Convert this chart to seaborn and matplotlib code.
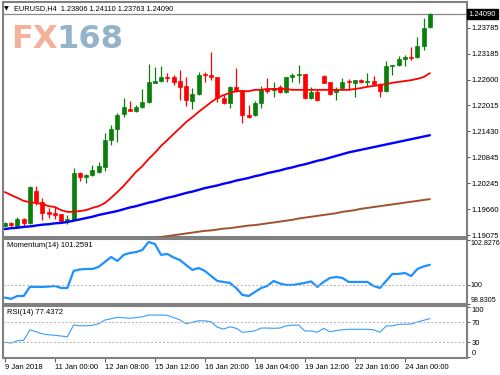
import numpy as np
import pandas as pd
import matplotlib
matplotlib.use("Agg")
import matplotlib.pyplot as plt
import seaborn as sns
from matplotlib.transforms import blended_transform_factory

sns.set_theme(style="white")
plt.rcParams['font.family'] = ['Liberation Sans', 'DejaVu Sans']

# ---------------- data ----------------
open_ = [
    1.1928, 1.1935, 1.1928, 1.1944, 1.1935, 1.2007, 1.1982, 1.1960, 1.1957, 1.1955,
    1.1939, 1.1942, 1.2048, 1.2039, 1.2044, 1.2051, 1.2062, 1.2123, 1.2148, 1.2182,
    1.2194, 1.2189, 1.2198, 1.2209, 1.2253, 1.2257, 1.2266, 1.2266, 1.2257, 1.2246,
    1.2212, 1.2228, 1.2273, 1.2271, 1.2266, 1.2219, 1.2207, 1.2244, 1.2237, 1.2180,
    1.2180, 1.2207, 1.2239, 1.2237, 1.2244, 1.2232, 1.2266, 1.2271, 1.2273, 1.2219,
    1.2232, 1.2268, 1.2255, 1.2232, 1.2241, 1.2257, 1.2253, 1.2259, 1.2255, 1.2257,
    1.2250, 1.2234, 1.2291, 1.2293, 1.2307, 1.2312, 1.2312, 1.2337, 1.23806]
high = [
    1.1937, 1.1937, 1.1948, 1.1946, 1.2019, 1.2019, 1.1992, 1.1969, 1.1971, 1.1955,
    1.1953, 1.2060, 1.2051, 1.2046, 1.2066, 1.2073, 1.2139, 1.2157, 1.2184, 1.2219,
    1.2212, 1.2203, 1.2239, 1.2296, 1.2289, 1.2291, 1.2275, 1.2271, 1.2282, 1.2266,
    1.2241, 1.2278, 1.2278, 1.2323, 1.2266, 1.2225, 1.2246, 1.2287, 1.2237, 1.2203,
    1.2212, 1.2246, 1.2264, 1.2255, 1.2248, 1.2266, 1.2275, 1.2293, 1.2273, 1.2244,
    1.2237, 1.2271, 1.2255, 1.2244, 1.2264, 1.2262, 1.2259, 1.2262, 1.2275, 1.2268,
    1.2253, 1.2303, 1.2293, 1.2314, 1.2316, 1.2334, 1.2357, 1.2400, 1.24110]
low = [
    1.1926, 1.1926, 1.1926, 1.1928, 1.1932, 1.1976, 1.1942, 1.1946, 1.1944, 1.1935,
    1.1932, 1.1942, 1.2030, 1.2026, 1.2041, 1.2048, 1.2053, 1.2112, 1.2119, 1.2175,
    1.2189, 1.2187, 1.2196, 1.2207, 1.2253, 1.2255, 1.2255, 1.2248, 1.2214, 1.2200,
    1.2194, 1.2225, 1.2255, 1.2259, 1.2209, 1.2205, 1.2196, 1.2232, 1.2162, 1.2173,
    1.2178, 1.2196, 1.2230, 1.2221, 1.2230, 1.2230, 1.2255, 1.2253, 1.2216, 1.2216,
    1.2212, 1.2253, 1.2225, 1.2214, 1.2237, 1.2237, 1.2221, 1.2253, 1.2246, 1.2246,
    1.2221, 1.2232, 1.2271, 1.2291, 1.2291, 1.2305, 1.2309, 1.2328, 1.23763]
close = [
    1.1935, 1.1930, 1.1944, 1.1935, 1.2016, 1.1982, 1.1957, 1.1955, 1.1953, 1.1939,
    1.1944, 1.2048, 1.2039, 1.2044, 1.2055, 1.2064, 1.2123, 1.2148, 1.2180, 1.2198,
    1.2189, 1.2198, 1.2209, 1.2255, 1.2257, 1.2266, 1.2264, 1.2255, 1.2244, 1.2214,
    1.2228, 1.2271, 1.2271, 1.2266, 1.2219, 1.2207, 1.2244, 1.2234, 1.2180, 1.2175,
    1.2207, 1.2239, 1.2234, 1.2241, 1.2232, 1.2266, 1.2271, 1.2273, 1.2219, 1.2232,
    1.2214, 1.2253, 1.2228, 1.2239, 1.2255, 1.2255, 1.2259, 1.2255, 1.2257, 1.2250,
    1.2234, 1.2291, 1.2293, 1.2307, 1.2312, 1.2309, 1.2337, 1.2377, 1.24090]

red_ma = [
    1.2005, 1.1998, 1.1992, 1.1985, 1.1982, 1.1980, 1.1978, 1.1973, 1.1971, 1.1964,
    1.1960, 1.1960, 1.1962, 1.1964, 1.1969, 1.1973, 1.1980, 1.1992, 1.2005, 1.2019,
    1.2035, 1.2051, 1.2064, 1.2080, 1.2094, 1.2110, 1.2123, 1.2137, 1.2150, 1.2164,
    1.2175, 1.2187, 1.2198, 1.2209, 1.2219, 1.2225, 1.2230, 1.2234, 1.2234, 1.2234,
    1.2237, 1.2237, 1.2239, 1.2239, 1.2239, 1.2239, 1.2237, 1.2237, 1.2237, 1.2237,
    1.2237, 1.2237, 1.2237, 1.2237, 1.2237, 1.2237, 1.2239, 1.2241, 1.2244, 1.2246,
    1.2248, 1.2250, 1.2253, 1.2255, 1.2257, 1.2259, 1.2262, 1.2266, 1.2275]
blue_ma = [
    1.1921, 1.1923, 1.1924, 1.1926, 1.1927, 1.1929, 1.1931, 1.1932, 1.1934, 1.1935,
    1.1937, 1.1940, 1.1943, 1.1946, 1.1949, 1.1953, 1.1956, 1.1959, 1.1962, 1.1966,
    1.1970, 1.1973, 1.1977, 1.1981, 1.1984, 1.1988, 1.1992, 1.1995, 1.1999, 1.2003,
    1.2006, 1.2010, 1.2014, 1.2017, 1.2020, 1.2024, 1.2027, 1.2031, 1.2034, 1.2037,
    1.2041, 1.2044, 1.2048, 1.2051, 1.2054, 1.2058, 1.2061, 1.2065, 1.2068, 1.2072,
    1.2076, 1.2079, 1.2083, 1.2087, 1.2091, 1.2095, 1.2098, 1.2101, 1.2104, 1.2107,
    1.2110, 1.2113, 1.2116, 1.2119, 1.2122, 1.2125, 1.2128, 1.2131, 1.2134]
brown_ma = [
    1.1853, 1.1855, 1.1858, 1.1859, 1.1861, 1.1863, 1.1865, 1.1867, 1.1869, 1.1871,
    1.1873, 1.1875, 1.1877, 1.1879, 1.1880, 1.1883, 1.1885, 1.1886, 1.1888, 1.1890,
    1.1892, 1.1895, 1.1897, 1.1899, 1.1901, 1.1903, 1.1905, 1.1907, 1.1909, 1.1911,
    1.1913, 1.1915, 1.1917, 1.1918, 1.1920, 1.1922, 1.1923, 1.1925, 1.1927, 1.1929,
    1.1930, 1.1932, 1.1934, 1.1936, 1.1938, 1.1940, 1.1942, 1.1945, 1.1947, 1.1949,
    1.1951, 1.1953, 1.1955, 1.1957, 1.1960, 1.1962, 1.1964, 1.1967, 1.1969, 1.1971,
    1.1973, 1.1975, 1.1977, 1.1979, 1.1981, 1.1983, 1.1985, 1.1987, 1.1989]

momentum = [
    99.21, 99.13, 99.31, 99.31, 99.88, 99.88, 99.88, 99.90, 99.94, 99.81,
    99.81, 100.88, 100.97, 101.00, 101.00, 101.13, 101.44, 101.75, 101.50, 101.88,
    102.00, 102.06, 102.19, 102.69, 102.56, 101.88, 101.94, 101.72, 101.56, 101.25,
    100.94, 101.06, 100.88, 100.56, 100.25, 100.19, 100.13, 99.81, 99.38, 99.31,
    99.56, 99.81, 99.94, 100.25, 100.09, 100.00, 100.00, 100.06, 100.13, 100.22,
    99.88, 100.19, 100.44, 100.50, 100.44, 100.19, 100.19, 100.19, 100.19, 99.94,
    99.81, 100.25, 100.69, 100.69, 100.75, 100.56, 101.00, 101.16, 101.2591]
rsi = [
    30.0, 28.5, 33.0, 34.0, 55.0, 51.0, 47.0, 45.0, 44.0, 42.5,
    41.0, 64.5, 63.0, 63.0, 64.0, 67.0, 74.5, 77.0, 80.0, 79.0,
    78.0, 79.5, 81.0, 84.5, 84.5, 84.5, 84.0, 79.5, 75.0, 67.0,
    70.0, 73.0, 73.0, 71.0, 60.0, 56.5, 61.0, 58.0, 50.0, 51.0,
    53.0, 58.5, 58.5, 58.0, 58.5, 63.0, 64.0, 64.5, 52.6, 52.6,
    50.0, 58.0, 51.0, 53.5, 55.0, 56.0, 56.0, 56.0, 56.0, 55.0,
    50.0, 62.5, 63.0, 66.0, 66.2, 66.6, 70.5, 74.0, 77.4372]

price_ticks = [1.19075, 1.19660, 1.20245, 1.20845, 1.21430, 1.22015, 1.22600, 1.23185, 1.23785]
last_price = 1.24090
mom_ticks = [98.8305, 100.0, 102.8276]
mom_tick_labels = ["98.8305", "100", "102.8276"]
rsi_ticks = [0, 30, 70, 100]
xtick_bars = [0, 8, 16, 24, 32, 40, 48, 56, 64]
xtick_labels = ["9 Jan 2018", "11 Jan 00:00", "12 Jan 08:00", "15 Jan 12:00",
                "16 Jan 20:00", "18 Jan 04:00", "19 Jan 12:00", "22 Jan 16:00",
                "24 Jan 00:00"]
title = "EURUSD,H4  1.23806 1.24110 1.23763 1.24090"

# ---------------- figure ----------------
df = pd.DataFrame({"bar": np.arange(len(close)), "open": open_, "high": high,
                   "low": low, "close": close, "red": red_ma, "blue": blue_ma,
                   "brown": brown_ma, "mom": momentum, "rsi": rsi})

GREEN = "#0a800a"
RED = "#ff0000"
SPINE = "#808080"
FS = 5.5
W, H = 500, 375
fig = plt.figure(figsize=(5, 3.75), dpi=100)
fig.patch.set_facecolor("white")


def rect(x0, y0, x1, y1):
    return [x0 / W, 1 - y1 / H, (x1 - x0) / W, (y1 - y0) / H]


ax = fig.add_axes(rect(3, 2, 467, 237))
axm = fig.add_axes(rect(3, 239, 467, 304))
axr = fig.add_axes(rect(3, 306, 467, 358))

XL = (-0.3, 73.94)

# candles
up = df["close"] >= df["open"]
cols = np.where(up, GREEN, RED)
ax.vlines(df["bar"], df["low"], df["high"], colors=cols, lw=0.9, zorder=2)
body_lo = np.minimum(df["open"], df["close"])
body_h = np.abs(df["close"] - df["open"])
ax.bar(df["bar"], body_h, bottom=body_lo, width=0.62, color=cols,
       edgecolor=cols, linewidth=0.5, zorder=2)

sns.lineplot(data=df, x="bar", y="red", ax=ax, color="#ff0000", lw=1.3, zorder=3)
sns.lineplot(data=df, x="bar", y="blue", ax=ax, color="#0000ff", lw=1.7, zorder=3)
sns.lineplot(data=df, x="bar", y="brown", ax=ax, color="#a0522d", lw=1.4, zorder=3)
ax.axhline(last_price, color="#888888", lw=0.9, zorder=1)

ax.set_xlim(*XL)
ax.set_ylim(1.19030, 1.24364)

sns.lineplot(data=df, x="bar", y="mom", ax=axm, color="#1e90ff", lw=1.6)
axm.axhline(100, color="#b0b0b0", lw=0.7, ls=(0, (2, 2)))
axm.set_xlim(*XL)
axm.set_ylim(98.81, 102.875)

sns.lineplot(data=df, x="bar", y="rsi", ax=axr, color="#3a9cff", lw=0.8)
for lv in (70, 30):
    axr.axhline(lv, color="#b0b0b0", lw=0.7, ls=(0, (2, 2)))
axr.set_xlim(*XL)
axr.set_ylim(-1.4, 102.6)

for a in (ax, axm, axr):
    a.set_xlabel("")
    a.set_ylabel("")
    a.set_facecolor("white")
    for s in a.spines.values():
        s.set_color(SPINE)
        s.set_linewidth(1.5)
    a.yaxis.tick_right()
    a.tick_params(axis="y", right=True, left=False, labelright=True,
                  labelleft=False, length=2.2, width=0.7, color="#555555",
                  pad=1.0, labelsize=FS, labelcolor="black")
    a.tick_params(axis="x", bottom=False, labelbottom=False)

ax.set_yticks(price_ticks)
ax.set_yticklabels([f"{v:.5f}" for v in price_ticks])

axm.set_yticks(mom_ticks)
axm.set_yticklabels(mom_tick_labels)
axm.tick_params(axis="y", labelsize=5.1, pad=0.6)
lbls = axm.get_yticklabels()
lbls[0].set_va("bottom")
lbls[2].set_va("top")

axr.set_yticks(rsi_ticks)
axr.set_yticklabels([str(v) for v in rsi_ticks])
lbls = axr.get_yticklabels()
lbls[0].set_va("bottom")
lbls[3].set_va("top")

axr.set_xticks(xtick_bars)
axr.set_xticklabels(xtick_labels, ha="left")
axr.tick_params(axis="x", bottom=True, labelbottom=True, length=3, width=0.7,
                color="#555555", pad=1.5, labelsize=FS, labelcolor="black")

# current price label
tr = blended_transform_factory(ax.transAxes, ax.transData)
ax.text(1.004, last_price, f"{last_price:.5f}", transform=tr, ha="left",
        va="center", color="white", fontsize=FS,
        bbox=dict(boxstyle="square,pad=0.25", fc="black", ec="black"), clip_on=False)

# indicator labels
axm.text(0.008, 0.95, "Momentum(14) 101.2591", transform=axm.transAxes,
         ha="left", va="top", fontsize=FS, color="black")
axr.text(0.008, 0.94, "RSI(14) 77.4372", transform=axr.transAxes,
         ha="left", va="top", fontsize=FS, color="black")

# title line
fig.text(4 / W, 1 - 8.5 / H, "\u25bc", fontsize=4.5, ha="left", va="center",
         color="black", family=["DejaVu Sans"])
fig.text(14 / W, 1 - 8.5 / H, title, fontsize=5.3, ha="left", va="center",
         color="black")

# watermark
fig.text(11 / W, 1 - 48.5 / H, "FX", fontsize=23, fontweight="bold",
         color="#f4b29a", ha="left", va="baseline", family=["DejaVu Sans"])
fig.text(56 / W, 1 - 48.5 / H, "168", fontsize=23, fontweight="bold",
         color="#94b4ca", ha="left", va="baseline", family=["DejaVu Sans"])

fig.savefig("out.png", dpi=100, facecolor="white")
